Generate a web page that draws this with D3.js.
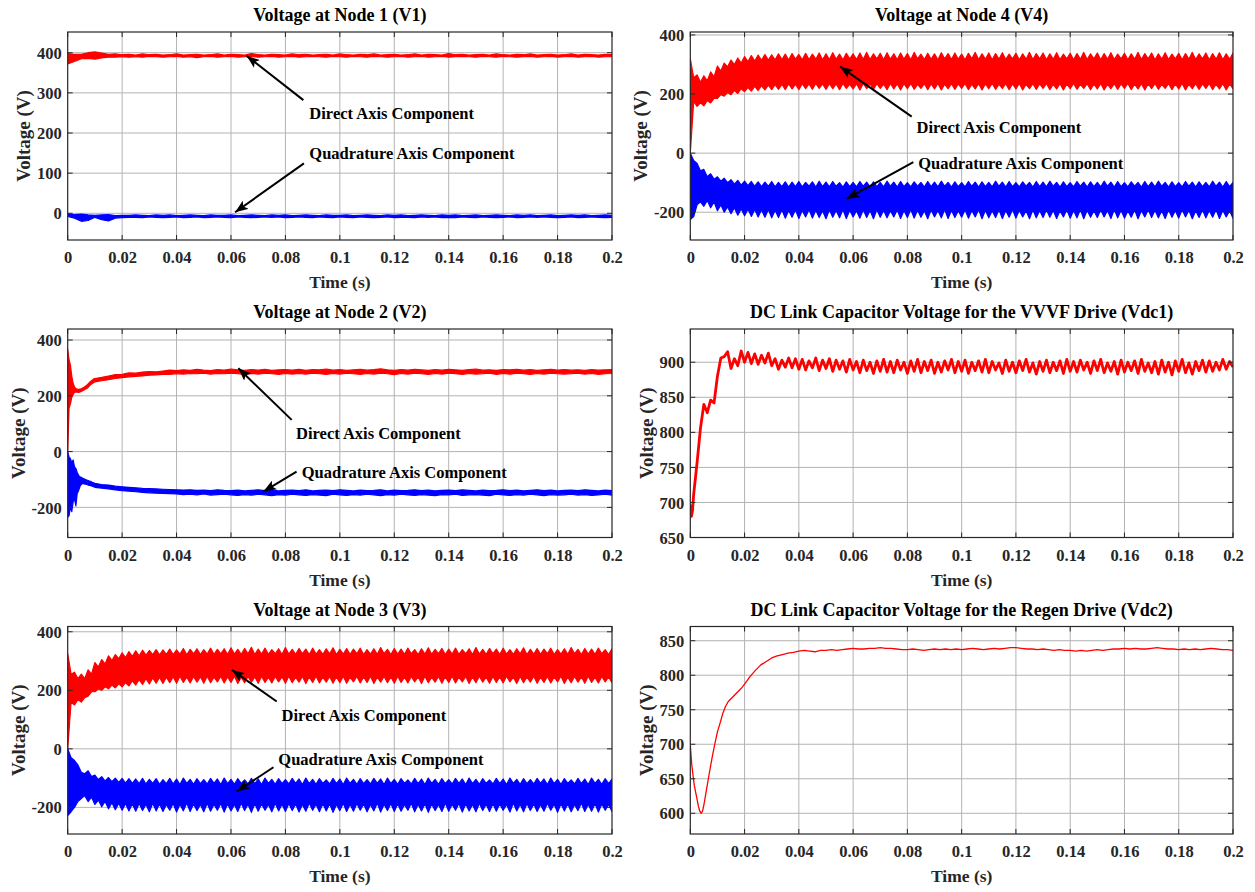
<!DOCTYPE html>
<html><head><meta charset="utf-8">
<script src="https://cdn.jsdelivr.net/npm/d3@7"></script>
<style>
body{margin:0;background:#fff}
svg{display:block}
text{font-family:"Liberation Serif","Times New Roman",serif;font-weight:bold}
</style>
</head><body>
<svg id="chart" width="1255" height="892"></svg>
<script>
// ---------------- DATA ----------------
const X_TICKS = [0,0.02,0.04,0.06,0.08,0.1,0.12,0.14,0.16,0.18,0.2];
const X_TICK_LABELS = ["0","0.02","0.04","0.06","0.08","0.1","0.12","0.14","0.16","0.18","0.2"];
const V1_Y_TICKS = [0,100,200,300,400];
const NODE_Y_TICKS = [-200,0,200,400];
const VDC1_Y_TICKS = [650,700,750,800,850,900];
const VDC2_Y_TICKS = [600,650,700,750,800,850];
const TITLES = ["Voltage at Node 1 (V1)","Voltage at Node 4 (V4)","Voltage at Node 2 (V2)",
  "DC Link Capacitor Voltage for the VVVF Drive (Vdc1)","Voltage at Node 3 (V3)",
  "DC Link Capacitor Voltage for the Regen Drive (Vdc2)"];
const X_LABEL = "Time (s)", Y_LABEL = "Voltage (V)";
const D_LABEL = "Direct Axis Component", Q_LABEL = "Quadrature Axis Component";

// Node 1 (uniform samples over 0..0.2 s)
const v1dHi = [398,396,396,400,402,399,396,397,395,396, 394,397,395,396,394,395,397,394,395,396,
  394,395,397,394,396,395,394,398,395,394, 396,395,394,397,395,396,394,395,396,394,
  397,395,394,396,395,397,394,395,396,394, 395,397,394,396,395,394,398,395,396,394,
  395,396,394,397,395,394,396,395,397,394, 395,396,394,395,397,394,396,395,394,396, 395];
const v1dLo = [372,378,385,386,384,387,389,389,390,389, 390,389,391,390,389,390,391,389,390,388,
  390,391,389,390,391,389,390,391,389,390, 391,389,390,391,389,390,391,390,389,391,
  390,389,391,390,389,391,390,389,390,391, 389,390,391,389,390,391,389,390,391,390,
  389,391,390,389,391,390,389,390,391,389, 390,391,389,390,391,389,390,391,389,390, 390];
const v1qHi = [-2,-3,-2,-4,-5,-4,-3,-6,-5,-5, -4,-5,-6,-4,-5,-4,-6,-5,-4,-5,
  -6,-4,-5,-5,-4,-6,-5,-4,-5,-6, -4,-5,-4,-6,-5,-4,-5,-6,-4,-5,
  -5,-4,-6,-5,-4,-5,-6,-4,-5,-4, -6,-5,-4,-5,-6,-4,-5,-4,-6,-5,
  -4,-6,-5,-4,-5,-6,-4,-5,-4,-6, -5,-4,-6,-5,-4,-5,-4,-6,-5,-4, -5];
const v1qLo = [-8,-12,-20,-18,-10,-16,-19,-12,-11,-10, -10,-11,-9,-10,-11,-10,-9,-11,-10,-9,
  -11,-10,-9,-10,-11,-9,-10,-11,-10,-9, -10,-9,-11,-10,-9,-10,-11,-9,-10,-11,
  -9,-10,-11,-9,-10,-11,-10,-9,-11,-10, -10,-11,-9,-10,-9,-11,-10,-11,-9,-10,
  -11,-9,-10,-11,-10,-9,-11,-10,-9,-10, -9,-10,-11,-10,-9,-11,-10,-9,-10,-11, -10];

// Node 2 (detailed start, then every 2.5 ms)
const v2Time = d3.range(0, 0.00999, 0.0005).concat(d3.range(0.01, 0.2001, 0.0025));
const v2dHi = [367,330,310,270,245,232,226,224,222,224,225,228,231,234,238,243,248,252,256,260,
  262,266,271,276,277,282,281,285,287,286, 289,292,290,293,291,295,292,290,294,292,
  296,293,291,294,292,295,291,293,294,292, 295,291,294,293,296,292,294,291,293,295,
  292,294,297,293,291,294,292,295,293,291, 294,292,295,293,291,294,296,292,293,291,
  294,293,295,292,294,291,293,295,292,294, 292,293,291,294,292,293,294];
const v2dLo = [0,155,170,195,205,212,214,213,212,214,216,218,221,224,226,230,236,240,244,247,
  250,254,258,262,265,268,270,271,274,275, 277,277,279,278,280,279,281,278,280,279,
  281,279,277,280,278,281,279,277,280,278, 280,278,281,279,277,280,278,281,279,277,
  280,278,281,279,276,280,278,281,279,277, 280,278,281,279,277,280,278,279,281,277,
  280,278,281,279,277,280,278,281,279,278, 279,281,278,280,277,279,280];
const v2qHi = [0,-20,-25,-40,-30,-55,-60,-75,-85,-90,-92,-96,-98,-100,-102,-104,-106,-107,-110,-112,
  -114,-118,-120,-124,-126,-128,-130,-132,-133,-134, -135,-136,-137,-138,-137,-139,-138,-140,-137,-139,
  -140,-138,-141,-139,-137,-140,-138,-141,-139,-138, -140,-137,-141,-139,-138,-140,-137,-139,-141,-138,
  -140,-139,-137,-141,-138,-140,-139,-137,-140,-138, -141,-139,-138,-140,-137,-139,-141,-138,-140,-139,
  -137,-140,-138,-141,-139,-137,-140,-138,-141,-139, -138,-140,-137,-139,-141,-138,-140];
const v2qLo = [-235,-230,-200,-215,-180,-170,-195,-150,-140,-125,-118,-114,-116,-117,-118,-120,-121,-122,-124,-126,
  -128,-131,-134,-137,-140,-142,-144,-146,-148,-149, -150,-151,-152,-154,-153,-155,-152,-156,-154,-153,
  -155,-157,-154,-156,-153,-155,-158,-154,-156,-153, -155,-157,-154,-156,-158,-153,-155,-157,-154,-156,
  -153,-155,-158,-154,-156,-153,-155,-157,-154,-156, -158,-154,-155,-153,-157,-155,-154,-156,-158,-153,
  -155,-157,-154,-156,-153,-155,-158,-154,-156,-155, -153,-156,-154,-157,-155,-153,-156];

// Node 4 (uniform samples, alternating crest / notch of the ripple)
const v4dHi = [320,255,265,240,262,245,275,258,295,278, 305,292,315,300,322,305,327,310,330,312,
  332,314,334,315,333,316,336,317,335,315, 337,318,334,316,338,317,335,318,339,316,
  336,317,340,318,335,316,338,319,336,317, 339,318,341,317,336,319,338,316,340,318,
  336,317,339,318,337,316,341,319,335,317, 338,318,336,316,340,319,337,317,339,318,
  335,316,338,319,341,317,336,318,339,316, 337,318,340,317,335,319,338,316,336,318,
  341,317,337,319,339,316,336,318,340,317, 335,319,338,316,337,318,341,317,336,319,
  339,316,337,318,340,317,335,319,338,316, 336,318,341,317,337,319,339,316,336,318,
  340,317,335,319,338,316,337,318,341,317, 336,319,339,316,337,318,340,317,336,318, 339];
const v4dLo = [0,175,158,170,160,178,170,185,185,198, 193,205,198,212,202,218,208,222,210,226,
  212,228,214,230,215,232,216,233,215,234, 217,233,215,235,218,234,216,236,219,234,
  216,235,218,234,215,236,219,233,217,235, 214,236,218,234,216,235,219,233,215,236,
  217,234,214,235,218,236,216,233,219,235, 215,234,217,236,214,233,218,235,216,234,
  219,236,215,233,217,235,214,234,218,236, 216,233,219,235,215,234,217,236,214,233,
  218,235,216,234,219,236,215,233,217,235, 214,234,218,236,216,233,219,235,215,234,
  217,236,214,233,218,235,216,234,219,236, 215,233,217,235,214,234,218,236,216,233,
  219,235,215,234,217,236,214,233,218,235, 216,234,219,236,215,233,217,235,214,234, 218];
const v4qHi = [0,-25,-35,-60,-55,-80,-70,-88,-80,-95, -85,-100,-90,-105,-92,-108,-95,-110,-96,-112,
  -97,-113,-98,-112,-96,-114,-99,-113,-97,-115, -98,-113,-96,-114,-99,-112,-97,-115,-95,-113,
  -98,-114,-96,-112,-100,-115,-97,-113,-99,-114, -96,-112,-98,-115,-97,-113,-99,-114,-95,-112,
  -98,-115,-96,-113,-100,-114,-97,-112,-99,-115, -96,-113,-98,-114,-95,-112,-99,-115,-97,-113,
  -100,-114,-96,-112,-98,-115,-97,-113,-99,-114, -95,-112,-98,-115,-96,-113,-100,-114,-97,-112,
  -99,-115,-96,-113,-98,-114,-95,-112,-99,-115, -97,-113,-100,-114,-96,-112,-98,-115,-97,-113,
  -99,-114,-95,-112,-98,-115,-96,-113,-100,-114, -97,-112,-99,-115,-96,-113,-98,-114,-95,-112,
  -99,-115,-97,-113,-100,-114,-96,-112,-98,-115, -97,-113,-99,-114,-95,-112,-98,-115,-96,-113, -99];
const v4qLo = [-225,-215,-175,-165,-180,-160,-185,-165,-195,-175, -200,-182,-205,-185,-210,-188,-212,-190,-214,-191,
  -216,-192,-217,-191,-219,-193,-218,-192,-220,-194, -217,-192,-221,-194,-216,-191,-220,-193,-218,-195,
  -222,-192,-217,-194,-219,-191,-221,-193,-216,-195, -220,-192,-218,-194,-222,-191,-217,-193,-219,-195,
  -216,-192,-221,-194,-218,-191,-220,-193,-217,-195, -222,-192,-216,-194,-219,-191,-221,-193,-218,-195,
  -217,-192,-220,-194,-216,-191,-222,-193,-219,-195, -218,-192,-221,-194,-217,-191,-220,-193,-216,-195,
  -222,-192,-219,-194,-218,-191,-217,-193,-221,-195, -216,-192,-220,-194,-219,-191,-222,-193,-217,-195,
  -218,-192,-216,-194,-221,-191,-219,-193,-220,-195, -217,-192,-222,-194,-216,-191,-218,-193,-219,-195,
  -221,-192,-217,-194,-220,-191,-216,-193,-222,-195, -218,-192,-219,-194,-217,-191,-221,-193,-216,-195, -220];

// Node 3
const v3dHi = [325,255,262,240,255,240,270,255,295,280, 305,290,318,302,322,308,328,312,332,316,
  335,318,337,320,336,322,339,321,338,323, 341,322,338,324,343,321,340,325,342,322,
  339,324,344,323,340,325,342,322,345,324, 340,323,343,325,347,322,341,324,344,323,
  339,325,342,322,346,324,340,323,343,325, 341,322,344,324,339,323,342,325,345,322,
  340,324,343,323,341,325,344,322,339,324, 342,323,346,325,340,322,343,324,341,323,
  344,325,339,322,342,324,345,323,340,325, 343,322,341,324,344,323,339,325,342,322,
  346,324,340,323,343,325,341,322,344,324, 339,323,342,325,345,322,340,324,343,323,
  341,325,344,322,339,324,342,323,346,325, 340,322,343,324,341,323,344,325,339,322, 342];
const v3dLo = [0,160,150,168,160,175,180,195,195,205, 200,212,205,218,208,222,212,226,215,232,
  218,236,220,240,222,242,224,244,223,245, 226,246,224,248,227,245,225,247,228,246,
  224,248,226,245,229,247,225,246,227,248, 223,245,226,247,228,246,224,248,227,245,
  225,247,229,246,224,248,226,245,228,247, 223,246,227,248,225,245,228,247,224,246,
  226,248,224,245,229,247,225,246,227,248, 223,245,228,247,226,246,224,248,227,245,
  225,247,229,246,223,248,226,245,228,247, 224,246,227,248,225,245,229,247,223,246,
  226,248,228,245,224,247,227,246,225,248, 229,245,223,247,226,246,228,248,224,245,
  227,247,225,246,229,248,223,245,226,247, 228,246,224,248,227,245,225,247,229,246, 226];
const v3qHi = [0,-30,-40,-55,-80,-85,-75,-95,-90,-105, -95,-110,-98,-112,-100,-115,-101,-117,-102,-118,
  -103,-119,-101,-120,-104,-118,-102,-121,-105,-119, -101,-120,-103,-122,-100,-118,-104,-121,-102,-119,
  -105,-120,-101,-118,-103,-122,-100,-119,-104,-121, -102,-118,-106,-120,-101,-119,-103,-122,-100,-118,
  -104,-121,-102,-119,-105,-120,-101,-118,-103,-122, -100,-119,-104,-121,-102,-118,-106,-120,-101,-119,
  -103,-122,-100,-118,-104,-121,-102,-119,-105,-120, -101,-118,-103,-122,-100,-119,-104,-121,-102,-118,
  -106,-120,-101,-119,-103,-122,-100,-118,-104,-121, -102,-119,-105,-120,-101,-118,-103,-122,-100,-119,
  -104,-121,-102,-118,-106,-120,-101,-119,-103,-122, -100,-118,-104,-121,-102,-119,-105,-120,-101,-118,
  -103,-122,-100,-119,-104,-121,-102,-118,-106,-120, -101,-119,-103,-122,-100,-118,-104,-121,-102,-119, -103];
const v3qLo = [-228,-215,-200,-180,-170,-160,-180,-165,-190,-175, -198,-180,-205,-184,-208,-186,-210,-187,-212,-188,
  -213,-187,-211,-189,-215,-186,-212,-188,-214,-190, -210,-187,-216,-189,-212,-185,-214,-188,-211,-190,
  -215,-186,-213,-189,-210,-187,-216,-188,-212,-190, -214,-185,-211,-189,-217,-187,-213,-188,-210,-190,
  -215,-186,-212,-189,-214,-187,-211,-188,-216,-190, -213,-185,-210,-189,-215,-187,-212,-188,-217,-190,
  -211,-186,-214,-189,-213,-187,-210,-188,-215,-190, -212,-185,-216,-189,-211,-187,-214,-188,-213,-190,
  -210,-186,-215,-189,-212,-187,-217,-188,-211,-190, -214,-185,-213,-189,-210,-187,-216,-188,-212,-190,
  -215,-186,-211,-189,-214,-187,-213,-188,-210,-190, -216,-185,-212,-189,-215,-187,-211,-188,-214,-190,
  -213,-186,-210,-189,-217,-187,-212,-188,-215,-190, -211,-185,-214,-189,-213,-187,-216,-188,-210,-190, -214];

// Vdc1
const vdc1Time = [0,0.0004,0.0008].concat(d3.range(0.00125, 0.20001, 0.00125));
const vdc1 = [697,680,688,
  712,757,806,840,828,846,842,880, 906,908,915,891,905,895,916,900,
  914,898,912,897,910,899,913,895, 905,890,903,893,906,892,905,890,
  904,889,902,892,906,888,903,891, 905,887,903,890,902,886,904,889,
  901,885,903,888,900,884,902,887, 904,886,901,885,903,889,900,884,
  902,887,904,885,901,888,903,884, 900,886,902,889,904,885,901,887,
  903,884,900,888,902,886,904,885, 901,889,899,884,903,887,900,885,
  902,888,904,886,899,883,901,887, 903,885,900,888,902,884,904,887,
  901,886,903,889,900,884,902,888, 904,885,899,887,901,883,903,886,
  900,888,902,884,904,887,899,885, 901,883,903,886,900,882,902,887,
  904,885,899,883,901,888,903,886, 902,887,900,889,904,890,901,893];

// Vdc2
const vdc2Time = [0,0.0005,0.001,0.0015,0.002,0.0025,0.003,0.0035,0.004,0.0045,0.005,0.006,0.007,0.008,
  0.009,0.01,0.011,0.012,0.013,0.014,0.015,0.016,0.017,0.018,0.019].concat(d3.range(0.02, 0.2001, 0.002));
const vdc2 = [700,672,655,640,630,620,610,603,600,603,612,635,658,680,700,718,731,745,755,762,766,770,774,778,782,
  787,798,807,815,820,825,828,830,832,833, 835,836,835,834,836,836,837,836,837,838,
  839,838,838,839,839,840,839,839,838,837, 837,838,837,836,837,838,837,838,837,838,
  837,838,839,838,837,838,839,838,839,840, 840,839,838,838,837,838,837,836,837,836,
  836,835,836,835,836,837,836,837,838,838, 839,838,839,838,838,839,840,839,838,838,
  837,838,837,838,837,838,839,838,837,837, 836];

const uniform = n => d3.range(n).map(i => i * 0.2 / (n - 1));
const RED = "#ff0000", BLUE = "#0000ff";

// ---------------- LAYOUT ----------------
const COLS = [[67.7, 612], [690.3, 1233]];
const ROWS = [[32, 240], [329, 537.5], [626.5, 834]];

const panels = [
  {title: TITLES[0], col: 0, row: 0, yDomain: [-66.5, 451.6], yTicks: V1_Y_TICKS,
   bands: [{t: uniform(81), hi: v1dHi, lo: v1dLo, color: RED}, {t: uniform(81), hi: v1qHi, lo: v1qLo, color: BLUE}],
   notes: [{text: D_LABEL, head: [0.0658, 392], tail: [0.0866, 282], at: [0.0888, 249.6]},
           {text: Q_LABEL, head: [0.0615, 2.5], tail: [0.0868, 124.5], at: [0.0888, 149.4]}]},
  {title: TITLES[1], col: 1, row: 0, yDomain: [-294, 410], yTicks: NODE_Y_TICKS,
   bands: [{t: uniform(161), hi: v4dHi, lo: v4dLo, color: RED}, {t: uniform(161), hi: v4qHi, lo: v4qLo, color: BLUE}],
   notes: [{text: D_LABEL, head: [0.0552, 292.7], tail: [0.0816, 123.5], at: [0.0834, 86.3]},
           {text: Q_LABEL, head: [0.0576, -155], tail: [0.0822, -30.8], at: [0.0840, -34.2]}]},
  {title: TITLES[2], col: 0, row: 1, yDomain: [-308, 439.5], yTicks: NODE_Y_TICKS,
   bands: [{t: v2Time, hi: v2dHi, lo: v2dLo, color: RED}, {t: v2Time, hi: v2qHi, lo: v2qLo, color: BLUE}],
   notes: [{text: D_LABEL, head: [0.0627, 299], tail: [0.0823, 113.7], at: [0.0839, 66]},
           {text: Q_LABEL, head: [0.0719, -143.5], tail: [0.0841, -71.7], at: [0.086, -75.3]}]},
  {title: TITLES[3], col: 1, row: 1, yDomain: [650, 947.4], yTicks: VDC1_Y_TICKS,
   lines: [{t: vdc1Time, v: vdc1, color: RED, width: 2.8}]},
  {title: TITLES[4], col: 0, row: 2, yDomain: [-291, 418], yTicks: NODE_Y_TICKS,
   bands: [{t: uniform(161), hi: v3dHi, lo: v3dLo, color: RED}, {t: uniform(161), hi: v3qHi, lo: v3qLo, color: BLUE}],
   notes: [{text: D_LABEL, head: [0.0603, 270], tail: [0.0768, 161.6], at: [0.0786, 113.8]},
           {text: Q_LABEL, head: [0.0621, -146], tail: [0.0756, -62.9], at: [0.0774, -34.2]}]},
  {title: TITLES[5], col: 1, row: 2, yDomain: [570, 870.6], yTicks: VDC2_Y_TICKS,
   lines: [{t: vdc2Time, v: vdc2, color: RED, width: 1.3}]}
];

// ---------------- DRAW ----------------
const svg = d3.select("#chart");
svg.append("rect").attr("width", 1255).attr("height", 892).attr("fill", "#fff");
const defs = svg.append("defs");
defs.append("marker").attr("id", "arrowhead").attr("markerUnits", "userSpaceOnUse")
  .attr("markerWidth", 14).attr("markerHeight", 10).attr("refX", 13).attr("refY", 5)
  .attr("orient", "auto")
  .append("path").attr("d", "M0,0 L13,5 L0,10 L3,5 Z").attr("fill", "#000");

const GRID = "#b3b3b3", AXIS = "#262626";

panels.forEach((p, idx) => {
  const [x0, x1] = COLS[p.col], [y0, y1] = ROWS[p.row];
  const x = d3.scaleLinear().domain([0, 0.2]).range([x0, x1]);
  const y = d3.scaleLinear().domain(p.yDomain).range([y1, y0]);
  const g = svg.append("g");

  defs.append("clipPath").attr("id", "clip" + idx).append("rect")
    .attr("x", x0).attr("y", y0).attr("width", x1 - x0).attr("height", y1 - y0);

  // grid
  const grid = g.append("g").attr("stroke", GRID).attr("stroke-width", 1);
  grid.selectAll(".gx").data(X_TICKS.slice(1, -1)).join("line")
    .attr("x1", d => x(d)).attr("x2", d => x(d)).attr("y1", y0).attr("y2", y1);
  grid.selectAll(".gy").data(p.yTicks).join("line")
    .attr("y1", d => y(d)).attr("y2", d => y(d)).attr("x1", x0).attr("x2", x1);

  // data
  const plot = g.append("g").attr("clip-path", `url(#clip${idx})`);
  (p.bands || []).forEach(b => {
    const n = Math.min(b.t.length, b.hi.length, b.lo.length);
    const pts = d3.range(n).map(i => ({t: b.t[i], hi: b.hi[i], lo: b.lo[i]}));
    const area = d3.area().x(d => x(d.t)).y0(d => y(d.lo)).y1(d => y(d.hi));
    plot.append("path").attr("d", area(pts)).attr("fill", b.color)
      .attr("stroke", b.color).attr("stroke-width", 1.2).attr("stroke-linejoin", "round");
  });
  (p.lines || []).forEach(l => {
    const n = Math.min(l.t.length, l.v.length);
    const pts = d3.range(n).map(i => ({t: l.t[i], v: l.v[i]}));
    const line = d3.line().x(d => x(d.t)).y(d => y(d.v));
    plot.append("path").attr("d", line(pts)).attr("fill", "none")
      .attr("stroke", l.color).attr("stroke-width", l.width).attr("stroke-linejoin", "round");
  });

  // inner ticks on all four sides
  const tk = g.append("g").attr("stroke", AXIS).attr("stroke-width", 1);
  X_TICKS.forEach(v => {
    tk.append("line").attr("x1", x(v)).attr("x2", x(v)).attr("y1", y1).attr("y2", y1 - 5);
    tk.append("line").attr("x1", x(v)).attr("x2", x(v)).attr("y1", y0).attr("y2", y0 + 5);
  });
  p.yTicks.forEach(v => {
    tk.append("line").attr("y1", y(v)).attr("y2", y(v)).attr("x1", x0).attr("x2", x0 + 5);
    tk.append("line").attr("y1", y(v)).attr("y2", y(v)).attr("x1", x1).attr("x2", x1 - 5);
  });
  // box
  g.append("rect").attr("x", x0).attr("y", y0).attr("width", x1 - x0).attr("height", y1 - y0)
    .attr("fill", "none").attr("stroke", AXIS).attr("stroke-width", 1.2);

  // axes labels via d3 axes
  const xa = g.append("g").attr("transform", `translate(0,${y1})`)
    .call(d3.axisBottom(x).tickValues(X_TICKS).tickFormat((d, i) => X_TICK_LABELS[i]).tickSize(0));
  xa.select(".domain").remove();
  xa.selectAll("text").attr("dy", null).attr("y", 23.3)
    .attr("font-size", 16.5).attr("fill", AXIS).style("font-family", null);
  xa.attr("font-family", null);

  const ya = g.append("g").attr("transform", `translate(${x0},0)`)
    .call(d3.axisLeft(y).tickValues(p.yTicks).tickFormat(d3.format("d")).tickSize(0).tickPadding(6));
  ya.select(".domain").remove();
  ya.selectAll("text").attr("dy", "0.34em").attr("font-size", 16.5).attr("fill", AXIS);
  ya.attr("font-family", null);
  ya.selectAll("text").text(d => d < 0 ? "-" + Math.abs(d) : String(d));

  const tickLeft = d3.min(ya.selectAll("text").nodes(), n => n.getBBox().x) + x0;

  // title
  g.append("text").attr("x", (x0 + x1) / 2).attr("y", y0 - 11).attr("text-anchor", "middle")
    .attr("font-size", 18).attr("fill", "#000").text(p.title);
  // x label
  g.append("text").attr("x", (x0 + x1) / 2).attr("y", y1 + 48).attr("text-anchor", "middle")
    .attr("font-size", 17.5).attr("fill", AXIS).text(X_LABEL);
  // y label
  g.append("text").attr("transform", `translate(${tickLeft - 12.5},${(y0 + y1) / 2}) rotate(-90)`)
    .attr("text-anchor", "middle").attr("dy", "0.3em")
    .attr("font-size", 19).attr("fill", AXIS).text(Y_LABEL);

  // annotations
  (p.notes || []).forEach(nt => {
    g.append("line").attr("x1", x(nt.tail[0])).attr("y1", y(nt.tail[1]))
      .attr("x2", x(nt.head[0])).attr("y2", y(nt.head[1]))
      .attr("stroke", "#000").attr("stroke-width", 2).attr("marker-end", "url(#arrowhead)");
    g.append("text").attr("x", x(nt.at[0])).attr("y", y(nt.at[1])).attr("dy", "0.35em")
      .attr("font-size", 16.5).attr("fill", "#000").text(nt.text);
  });
});
</script>
</body></html>
